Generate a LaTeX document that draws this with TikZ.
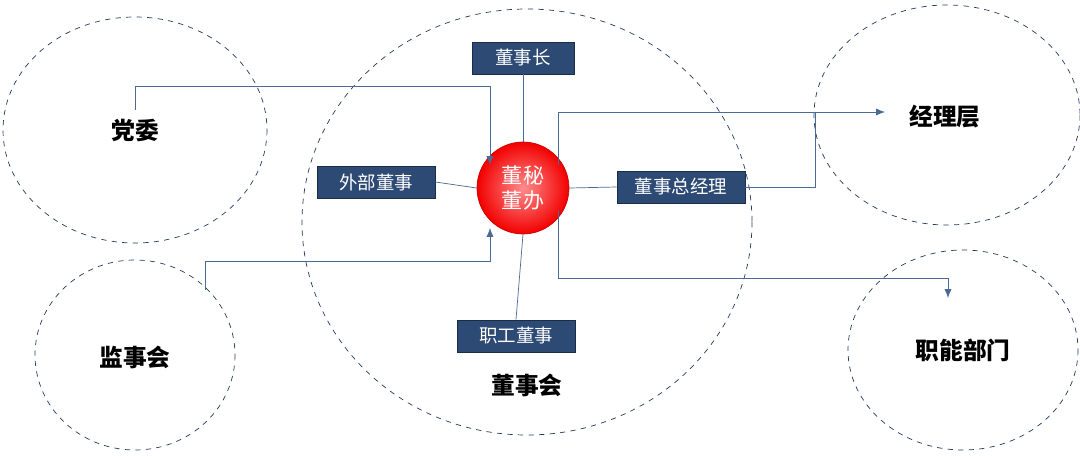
\documentclass[tikz,border=0pt]{standalone}
\usepackage{fontspec}
\newfontfamily\cjk{Noto Sans CJK SC}
\usetikzlibrary{arrows.meta,shapes.geometric}
\definecolor{ln}{HTML}{4A6A94}
\definecolor{bx}{HTML}{2C4A74}
\begin{document}
\begin{tikzpicture}[x=0.02cm,y=-0.02cm,font=\cjk,
 circ/.style={draw=bx!80!black,dashed,thin},
 boxn/.style={fill=bx,draw=bx!60!black,text=white,minimum height=0.64cm,inner sep=2pt,font=\cjk\fontsize{10.5}{12}\selectfont},
 big/.style={font=\cjk\bfseries\fontsize{13.5}{15}\selectfont},
 con/.style={draw=ln,thin},
 arr/.style={con,-{Latex[length=5pt,width=4pt]}}]
\useasboundingbox (0,0) rectangle (1080,456);
\draw[circ] (135,130) ellipse [x radius=132,y radius=113];
\draw[circ] (135,355) ellipse [x radius=100,y radius=95];
\draw[circ] (527,222) ellipse [x radius=225,y radius=213];
\draw[circ] (947,115) ellipse [x radius=133,y radius=110];
\draw[circ] (963,350) ellipse [x radius=115,y radius=100];
\node[big] (dw) at (135,130) {党委};
\node[big] (js) at (135,357) {监事会};
\node[big] (dsh) at (527,385) {董事会};
\node[big] (jl) at (945,117) {经理层};
\node[big] (zn) at (963,350) {职能部门};
\node[boxn,minimum width=2.04cm] (dsz) at (523,58) {董事长};
\node[boxn,minimum width=2.36cm] (wb) at (376,182) {外部董事};
\node[boxn,minimum width=2.56cm] (zjl) at (681,187) {董事总经理};
\node[boxn,minimum width=2.36cm] (zg) at (516,336) {职工董事};
\node[circle,minimum size=1.84cm,inner sep=0pt,draw=red!80!black,
 inner color=red!45!white,outer color=red!95!black,shading=radial,text=white,align=center,font=\cjk\fontsize{12}{14}\selectfont] (c) at (523,188) {董秘\\董办};
\draw[con] (dsz.south) -- (c.north);
\draw[con] (wb.east) -- (c.west);
\draw[con] (zjl.west) -- (c.east);
\draw[con] (zg.north) -- (c.south);
\coordinate (a1) at (135,110); \coordinate (a2) at (490,165);
\draw[arr] (a1) |- (490,86) -- (a2);
\coordinate (b1) at (205,290); \coordinate (b2) at (490,228);
\draw[arr] (b1) |- (490,261) -- (b2);
\coordinate (e1) at (558,165); \coordinate (e2) at (885,112);
\draw[arr] (e1) |- (e2);
\draw[con] (zjl.east) -| (815,112);
\coordinate (f1) at (558,210); \coordinate (f2) at (948,298);
\draw[arr] (f1) |- (948,278) -- (f2);
\end{tikzpicture}
\end{document}
